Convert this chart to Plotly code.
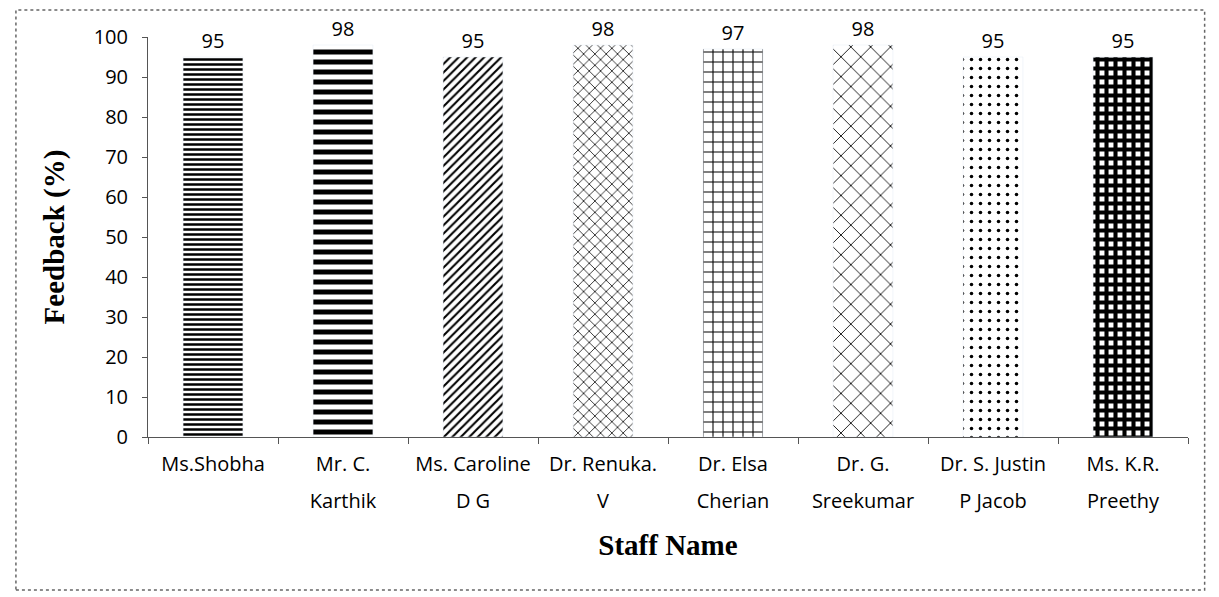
import plotly.graph_objects as go

staff = ["Ms.Shobha", "Mr. C. Karthik", "Ms. Caroline D G", "Dr. Renuka. V",
         "Dr. Elsa Cherian", "Dr. G. Sreekumar", "Dr. S. Justin P Jacob", "Ms. K.R. Preethy"]
label_line1 = ["Ms.Shobha", "Mr. C.", "Ms. Caroline", "Dr. Renuka.", "Dr. Elsa", "Dr. G.", "Dr. S. Justin", "Ms. K.R."]
label_line2 = ["", "Karthik", "D G", "V", "Cherian", "Sreekumar", "P Jacob", "Preethy"]
feedback = [95, 98, 95, 98, 97, 98, 95, 95]
labels = ["95", "98", "95", "98", "97", "98", "95", "95"]
y_ticks = [0, 10, 20, 30, 40, 50, 60, 70, 80, 90, 100]

pattern_shapes = ["-", "-", "/", "x", "+", "x", ".", "+"]
pattern_sizes = [5, 10, 6, 8, 10, 14, 9, 9]
pattern_solidity = [0.5, 0.5, 0.35, 0.18, 0.2, 0.12, 0.12, 0.7]

fig = go.Figure()
fig.add_trace(go.Bar(
    x=staff, y=feedback, text=labels, textposition="outside",
    textfont=dict(family="Open Sans", size=20, color="black"),
    cliponaxis=False,
    marker=dict(color="white", line=dict(width=0),
                pattern=dict(shape=pattern_shapes, size=pattern_sizes,
                             solidity=pattern_solidity, fgcolor="black",
                             bgcolor="white", fillmode="replace")),
    width=0.46,
))
# invisible twin trace so the overlaying axis (second line of the names) is drawn
fig.add_trace(go.Bar(x=staff, y=feedback, xaxis="x2", marker=dict(color="rgba(0,0,0,0)"),
                     width=0.46, hoverinfo="skip", showlegend=False))

fig.update_layout(
    width=1211, height=589,
    margin=dict(l=140, r=31, t=29, b=160),
    paper_bgcolor="white", plot_bgcolor="white",
    showlegend=False,
    font=dict(family="Open Sans", size=20, color="black"),
    xaxis=dict(
        title=dict(text="<b>Staff Name</b>", font=dict(family="Liberation Serif", size=29, color="black"), standoff=58),
        showline=True, linecolor="#555", linewidth=1,
        ticks="outside", tickson="boundaries", ticklen=6, tickcolor="#555",
        tickmode="array", tickvals=staff, ticktext=label_line1,
        tickfont=dict(family="Open Sans", size=20, color="black"),
        ticklabelstandoff=9,
        showgrid=False,
    ),
    xaxis2=dict(
        overlaying="x", matches="x", side="bottom", anchor="y",
        showline=False, ticks="", showgrid=False,
        tickmode="array", tickvals=staff, ticktext=label_line2,
        tickfont=dict(family="Open Sans", size=20, color="black"),
        ticklabelstandoff=50,
    ),
    yaxis=dict(
        title=dict(text="<b>Feedback (%)</b>", font=dict(family="Liberation Serif", size=29, color="black"), standoff=20),
        range=[0, 100], tickvals=y_ticks,
        showline=True, linecolor="#555", linewidth=1,
        ticks="outside", ticklen=5, tickcolor="#555",
        tickfont=dict(family="Open Sans", size=20, color="black"),
        ticklabelstandoff=10,
        showgrid=False, zeroline=False,
    ),
)

fig.add_shape(type="rect", xref="paper", yref="paper",
              x0=-0.127, x1=1.016, y0=-0.3825, y1=1.0675,
              line=dict(color="#666", width=1.5, dash="dot"), fillcolor="rgba(0,0,0,0)")

fig.write_html("out.html")
